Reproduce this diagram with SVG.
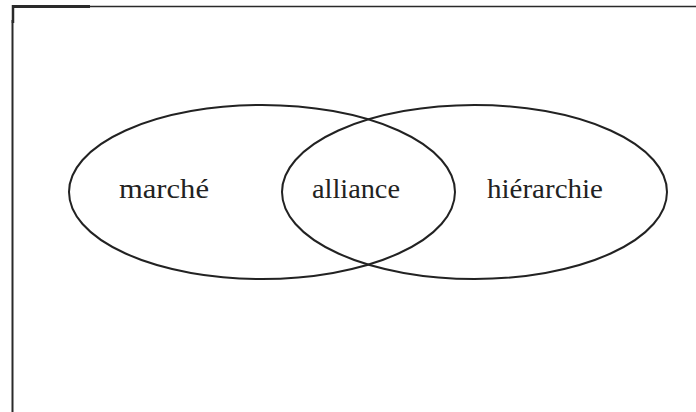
<svg xmlns="http://www.w3.org/2000/svg" width="696" height="412" viewBox="0 0 696 412">
<style>
.frame{stroke:#2a2a2a;fill:none}
.ell{fill:none;stroke:#222;stroke-width:2}
.lbl{font-family:"Liberation Serif","Times New Roman",serif;font-size:27px;fill:#222}
</style>
<rect width="696" height="412" fill="#fff"/>
<g id="frame">
<line class="frame" x1="12" y1="6.5" x2="696" y2="6.5" stroke-width="1.6"/>
<line class="frame" x1="12" y1="6.5" x2="90" y2="6.5" stroke-width="3"/>
<line class="frame" x1="13" y1="5" x2="13" y2="23" stroke-width="2.5"/>
<line class="frame" x1="12.5" y1="20" x2="12.5" y2="412" stroke-width="2"/>
</g>
<g id="marche">
<ellipse class="ell" cx="262" cy="192" rx="193" ry="87"/>
<text class="lbl" x="119" y="198" textLength="90" lengthAdjust="spacingAndGlyphs">marché</text>
</g>
<g id="hierarchie">
<ellipse class="ell" cx="474.5" cy="192" rx="192.5" ry="87"/>
<text class="lbl" x="487" y="198" textLength="116" lengthAdjust="spacingAndGlyphs">hiérarchie</text>
</g>
<g id="alliance">
<text class="lbl" x="312" y="198" textLength="88" lengthAdjust="spacingAndGlyphs">alliance</text>
</g>
<g id="connectors"></g>
</svg>
